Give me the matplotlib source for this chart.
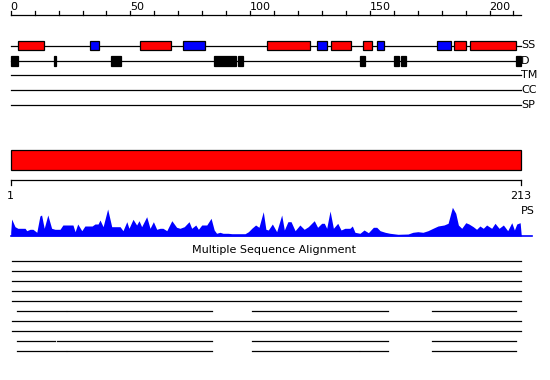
import matplotlib.pyplot as plt
from matplotlib.patches import Rectangle

seq_len = 213

# secondary structure: (start, end, type)  H = helix (red), E = strand (blue)
ss_start = [3, 33, 54, 72, 107, 128, 134, 147, 153, 178, 185, 192]
ss_end = [14, 37, 67, 81, 125, 132, 142, 151, 156, 184, 190, 211]
ss_type = ['H', 'E', 'H', 'E', 'H', 'E', 'H', 'H', 'E', 'E', 'H', 'H']

# disorder segments
dis_start = [0, 18, 42, 85, 95, 146, 160, 163, 211]
dis_end = [3, 19, 46, 94, 97, 148, 162, 165, 213]

track_names = ['SS', 'D', 'TM', 'CC', 'SP']

# PS profile (residue position, score)
ps_pos = [0, 0.4, 1.8, 3.0, 6.0, 6.7, 8.1, 9.3, 10.9, 12.2, 12.9, 14.0, 15.5, 17.1,
          18.5, 20.6, 21.8, 23.5, 24.8, 26.0, 26.9, 28.0, 29.7, 31.0, 34.0, 35.2,
          36.5, 37.3, 38.6, 40.5, 42.2, 44.4, 45.7, 46.9, 48.5, 49.4, 51.1, 52.6,
          53.6, 54.7, 56.8, 58.2, 59.6, 61.0, 62.4, 63.6, 65.2, 67.3, 69.3, 70.7,
          72.5, 74.5, 75.6, 77.3, 78.4, 79.8, 81.9, 83.7, 85.0, 86.0, 87.4, 88.7,
          90.8, 92.4, 97.9, 99.3, 100.7, 102.3, 103.7, 105.5, 106.6, 107.6, 109.3,
          111.1, 113.2, 114.3, 115.8, 117.1, 118.8, 120.8, 122.6, 124.3, 126.8,
          128.2, 129.9, 131.0, 132.0, 133.4, 134.8, 136.6, 138.0, 139.6, 141.7,
          142.7, 143.8, 145.9, 147.6, 149.4, 151.5, 152.9, 154.3, 156.4, 158.4,
          161.8, 166.0, 168.0, 170.1, 172.2, 174.3, 176.4, 178.5, 181.0, 182.7,
          184.5, 185.9, 187.0, 188.4, 190.1, 191.4, 193.2, 194.6, 196.0, 197.4,
          198.8, 200.9, 202.3, 204.0, 205.8, 207.6, 209.3, 210.4, 211.4, 212.8, 213.3]
ps_score = [4, 17, 9.3, 7.7, 7.7, 5.3, 6.7, 6.7, 3.7, 20, 21, 7.7, 21, 7.7,
            6.7, 6.7, 11, 11, 11, 11, 4.3, 12, 5.3, 10, 10, 12,
            12, 16, 9.3, 27, 9.3, 9.3, 9.3, 5.3, 14.3, 7.7, 16.7, 11,
            15.3, 9.3, 19.3, 7.7, 14.3, 6.7, 7.7, 7.7, 5.3, 15.3, 8.7, 7.7,
            9.3, 14.3, 7.7, 11, 6.7, 11, 11, 17.7, 6, 2.7, 3.7, 2.7,
            2.7, 2.3, 2.3, 4.3, 7.7, 11, 8.7, 24.3, 6.7, 6, 12,
            4.3, 21, 6, 14.3, 14.3, 5.3, 11, 6.7, 9.3, 15.3,
            8.7, 12.7, 12.7, 7.7, 25, 7.7, 12.7, 6, 7.7, 7.7,
            10, 3.7, 2.7, 6, 3.3, 8.7, 8.7, 5.3, 3.7, 2.7,
            1.7, 2, 3.7, 4.3, 3.7, 5.3, 7.7, 10, 11, 12.7,
            28.7, 22.7, 11, 7.7, 13.3, 12, 9.3, 6.7, 10, 7.7,
            11, 7.7, 12.7, 7.7, 11, 5.3, 13.3, 6, 12, 13.3, 0]

# multiple sequence alignment rows: list of (start, end) segments
msa_rows = [
    [(0.7, 213)],
    [(0.7, 213)],
    [(0.7, 213)],
    [(0.7, 213)],
    [(0.7, 213)],
    [(2.8, 23), (23.6, 84), (100.7, 157.8), (175.9, 211)],
    [(0.7, 213)],
    [(0.7, 213)],
    [(2.8, 18.5), (19.5, 84), (100.7, 157.8), (175.9, 211)],
    [(2.8, 23), (23.6, 84), (100.7, 145.3), (146, 157.8), (175.9, 211)],
]

ss_colors = {'H': '#ff0000', 'E': '#0000ff'}
lw = 0.9
fs = 8

fig = plt.figure(figsize=(5.5, 3.8), dpi=100)
ax = fig.add_axes([0, 0, 1, 1])
px = 2.394  # pixels per residue
ax.set_xlim(-10.7 / px, (550 - 10.7) / px)
ax.set_ylim(380, 0)
ax.axis('off')

# top ruler
ax.plot([0, seq_len], [15, 15], color='black', lw=lw)
for t in range(0, seq_len, 10):
    ax.plot([t, t], [15, 11], color='black', lw=lw)
    if t % 50 == 0:
        ax.text(t, 10, str(t), fontsize=fs, ha='left', va='baseline')

# feature tracks
track_y = [45.5, 60.5, 75, 90, 105]
for name, y in zip(track_names, track_y):
    ax.plot([0, seq_len], [y, y], color='black', lw=lw, zorder=1)
    ax.text(seq_len + 0.2, y, name, fontsize=fs, ha='left', va='center')

for s, e, t in zip(ss_start, ss_end, ss_type):
    ax.add_patch(Rectangle((s, track_y[0] - 4.8), e - s, 9.6, facecolor=ss_colors[t],
                           edgecolor='black', lw=lw, zorder=2))
for s, e in zip(dis_start, dis_end):
    ax.add_patch(Rectangle((s, track_y[1] - 5), e - s, 10, facecolor='black',
                           edgecolor='black', lw=lw, zorder=2))

# full-length domain bar
ax.add_patch(Rectangle((0, 150), seq_len, 20.3, facecolor='#ff0000', edgecolor='black', lw=lw))

# second ruler
ax.plot([0, seq_len], [180.3, 180.3], color='black', lw=lw)
ax.plot([0, 0], [180.3, 184.5], color='black', lw=lw)
ax.plot([seq_len, seq_len], [180.3, 184.5], color='black', lw=lw)
ax.text(0, 199, '1', fontsize=fs, ha='center', va='baseline')
ax.text(seq_len, 199, str(seq_len), fontsize=fs, ha='center', va='baseline')
ax.text(seq_len + 0.3, 214, 'PS', fontsize=fs, ha='left', va='baseline')

# PS profile
base = 236
ax.fill_between(ps_pos, [base] * len(ps_pos), [base - v for v in ps_score],
                color='#0000ff', lw=0)
ax.plot([0, 217.8], [base - 0.5, base - 0.5], color='#0000ff', lw=1.2)

# MSA
ax.text(110, 250, 'Multiple Sequence Alignment', fontsize=fs, ha='center', va='center')
for i, row in enumerate(msa_rows):
    y = 260.7 + 10 * i
    for s, e in row:
        ax.plot([s, e], [y, y], color='black', lw=lw)

fig.savefig('out.png', dpi=100)
